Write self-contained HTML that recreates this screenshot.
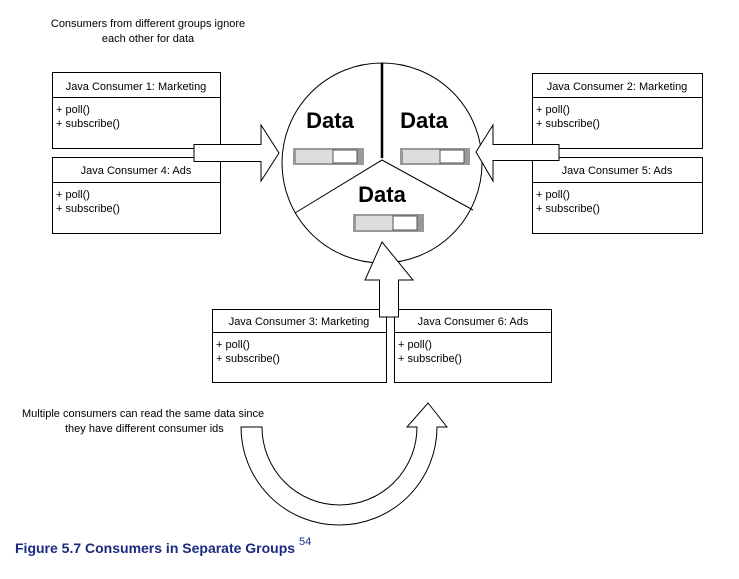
<!DOCTYPE html>
<html><head><style>
body{margin:0;background:#fff;width:739px;height:574px;overflow:hidden;font-family:"Liberation Sans",sans-serif}
</style></head><body>
<svg width="739" height="574" xmlns="http://www.w3.org/2000/svg" font-family="Liberation Sans, sans-serif">
<rect width="739" height="574" fill="#fff"/>
<text x="148" y="27" font-size="11" text-anchor="middle">Consumers from different groups ignore</text>
<text x="148" y="42" font-size="11" text-anchor="middle">each other for data</text>

<g fill="#fff" stroke="#000" stroke-width="1">
<rect x="52.5" y="72.5" width="168" height="76"/><line x1="52" y1="97.5" x2="221" y2="97.5"/>
<rect x="52.5" y="157.5" width="168" height="76"/><line x1="52" y1="182.5" x2="221" y2="182.5"/>
<rect x="532.5" y="73.5" width="170" height="75"/><line x1="532" y1="97.5" x2="703" y2="97.5"/>
<rect x="532.5" y="157.5" width="170" height="76"/><line x1="532" y1="182.5" x2="703" y2="182.5"/>
<rect x="212.5" y="309.5" width="174" height="73"/><line x1="212" y1="332.5" x2="387" y2="332.5"/>
<rect x="394.5" y="309.5" width="157" height="73"/><line x1="394" y1="332.5" x2="552" y2="332.5"/>
</g>
<g font-size="11">
<text x="136" y="90" text-anchor="middle">Java Consumer 1: Marketing</text>
<text x="56" y="113">+ poll()</text><text x="56" y="127">+ subscribe()</text>
<text x="136" y="174" text-anchor="middle">Java Consumer 4: Ads</text>
<text x="56" y="198">+ poll()</text><text x="56" y="212">+ subscribe()</text>
<text x="617" y="90" text-anchor="middle">Java Consumer 2: Marketing</text>
<text x="536" y="113">+ poll()</text><text x="536" y="127">+ subscribe()</text>
<text x="617" y="174" text-anchor="middle">Java Consumer 5: Ads</text>
<text x="536" y="198">+ poll()</text><text x="536" y="212">+ subscribe()</text>
<text x="299" y="325" text-anchor="middle">Java Consumer 3: Marketing</text>
<text x="216" y="348">+ poll()</text><text x="216" y="362">+ subscribe()</text>
<text x="473" y="325" text-anchor="middle">Java Consumer 6: Ads</text>
<text x="398" y="348">+ poll()</text><text x="398" y="362">+ subscribe()</text>
</g>

<circle cx="382" cy="163" r="100" fill="#fff" stroke="#000"/>
<line x1="382" y1="63" x2="382" y2="158" stroke="#000" stroke-width="2.5"/>
<polyline points="295,213 382,160 473,210" fill="none" stroke="#000"/>

<g fill="#fff" stroke="#000">
<polygon points="194,144.5 261,144.5 261,125 279,153 261,181 261,161.5 194,161.5"/>
<polygon points="559,144.5 493,144.5 493,125 476,152 493,181 493,160.5 559,160.5"/>
<polygon points="379.5,317 379.5,280 365,280 382,242 413,280 398.5,280 398.5,317"/>
<path d="M241,427 L262,427 A77.5,78 0 0 0 417,427 L407,427 L428,403 L447,427 L437,427 A98,98 0 0 1 241,427 Z"/>
</g>

<g font-weight="bold" font-size="22" text-anchor="middle">
<text x="330" y="128">Data</text><text x="424" y="128">Data</text><text x="382" y="202">Data</text>
</g>
<g>
<g transform="translate(293,148)"><rect width="71" height="17" fill="#999"/><rect x="3" y="2" width="40" height="13" fill="#ddd"/><rect x="40" y="2" width="24" height="13" fill="#fff" stroke="#555"/></g>
<g transform="translate(400,148)"><rect width="70" height="17" fill="#999"/><rect x="3" y="2" width="40" height="13" fill="#ddd"/><rect x="40" y="2" width="24" height="13" fill="#fff" stroke="#555"/></g>
<g transform="translate(353,214)"><rect width="71" height="18" fill="#999"/><rect x="3" y="2" width="40" height="14" fill="#ddd"/><rect x="40" y="2" width="24" height="14" fill="#fff" stroke="#555"/></g>
</g>

<text x="22" y="417" font-size="11">Multiple consumers can read the same data since</text>
<text x="65" y="432" font-size="11">they have different consumer ids</text>
<text x="15" y="553" font-size="14" font-weight="bold" fill="#1a2a80">Figure 5.7 Consumers in Separate Groups <tspan font-size="11" font-weight="normal" dy="-8">54</tspan></text>
</svg>
</body></html>
